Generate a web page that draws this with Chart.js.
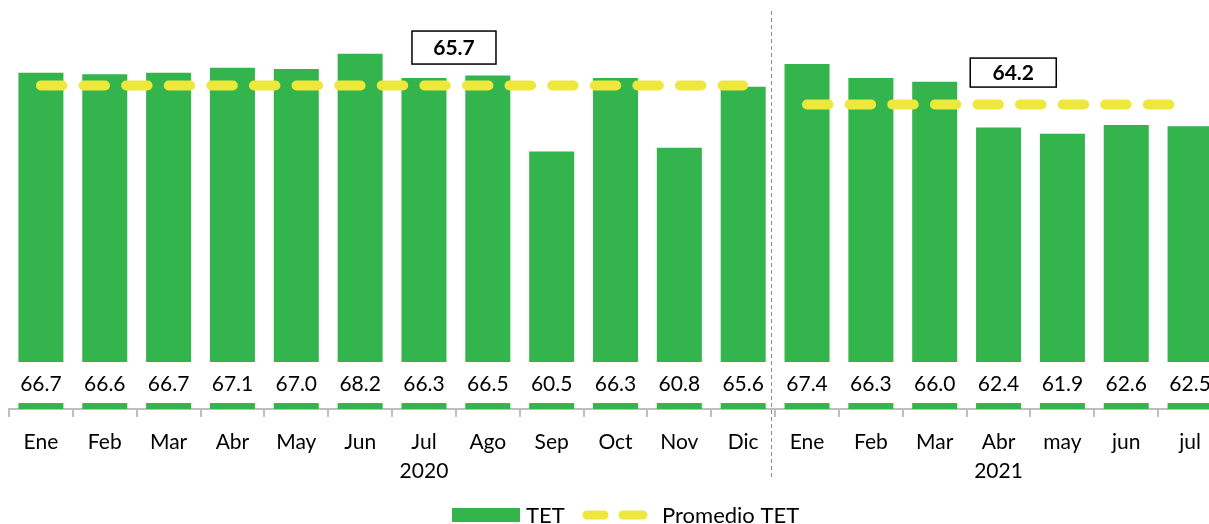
<!DOCTYPE html>
<html><head><meta charset="utf-8">
<script src="https://cdn.jsdelivr.net/npm/chart.js@4.4.1/dist/chart.umd.min.js"></script>
<style>html,body{margin:0;padding:0;overflow:hidden;background:#fff}#wrap{width:1224px;height:524px;position:relative}</style>
</head><body><div id="wrap"><canvas id="c"></canvas></div>
<script>
const months = ['Ene','Feb','Mar','Abr','May','Jun','Jul','Ago','Sep','Oct','Nov','Dic','Ene','Feb','Mar','Abr','may','jun','jul'];
const yearLabels = ['','','','','','','2020','','','','','','','','','2021','','',''];
const tetValues = [66.7,66.6,66.7,67.1,67.0,68.2,66.3,66.5,60.5,66.3,60.8,65.6,67.4,66.3,66.0,62.4,61.9,62.6,62.5];
const avg2020 = [65.7,65.7,65.7,65.7,65.7,65.7,65.7,65.7,65.7,65.7,65.7,65.7,null,null,null,null,null,null,null];
const avg2021 = [null,null,null,null,null,null,null,null,null,null,null,null,64.2,64.2,64.2,64.2,64.2,64.2,64.2];
const avgValues = [65.7, 64.2];

const GREEN = '#34B44C', YELLOW = '#EDE83B', FONT = 'Lato, "Open Sans", sans-serif';
const labels = months.map((m,i) => yearLabels[i] ? [m, yearLabels[i]] : m);

const decor = {
  id: 'decor',
  afterDatasetsDraw(chart) {
    const ctx = chart.ctx, xs = chart.scales.x, ys = chart.scales.y, ca = chart.chartArea;
    const meta = chart.getDatasetMeta(2);
    ctx.save();
    // value labels with white band
    ctx.font = '21px ' + FONT;
    ctx.textAlign = 'center'; ctx.textBaseline = 'middle';
    meta.data.forEach((el, i) => {
      ctx.fillStyle = '#fff';
      ctx.fillRect(el.x - el.width/2 - 1, ca.bottom - 47, el.width + 2, 41);
      ctx.fillStyle = '#000';
      ctx.fillText(tetValues[i].toFixed(1), el.x, ca.bottom - 25);
    });
    // average boxes
    const boxes = [{pos: 6.47, dy: -38, w: 84, h: 33}, {pos: 15.23, dy: -32, w: 86, h: 29}];
    ctx.font = 'bold 21px ' + FONT;
    boxes.forEach((b, i) => {
      const cx = xs.getPixelForValue(b.pos), cy = ys.getPixelForValue(avgValues[i]) + b.dy;
      ctx.fillStyle = '#fff';
      ctx.fillRect(cx - b.w/2, cy - b.h/2, b.w, b.h);
      ctx.strokeStyle = '#000'; ctx.lineWidth = 1.5;
      ctx.strokeRect(cx - b.w/2, cy - b.h/2, b.w, b.h);
      ctx.fillStyle = '#000';
      ctx.fillText(avgValues[i].toFixed(1), cx, cy + 1);
    });
    // separator
    const sx = Math.round((xs.getPixelForValue(11) + xs.getPixelForValue(12)) / 2) - 3.5;
    ctx.strokeStyle = '#8c8c8c'; ctx.lineWidth = 1; ctx.setLineDash([4, 3]);
    ctx.beginPath(); ctx.moveTo(sx, 11); ctx.lineTo(sx, 478); ctx.stroke();
    ctx.setLineDash([]);
    // legend
    ctx.fillStyle = GREEN; ctx.fillRect(452, 508, 68, 14);
    ctx.font = '22px ' + FONT; ctx.textAlign = 'left'; ctx.fillStyle = '#000';
    ctx.fillText('TET', 526, 516);
    ctx.strokeStyle = YELLOW; ctx.lineWidth = 9; ctx.lineCap = 'round';
    ctx.beginPath(); ctx.moveTo(587, 515); ctx.lineTo(604, 515); ctx.moveTo(623, 515); ctx.lineTo(643, 515); ctx.stroke();
    ctx.fillText('Promedio TET', 662, 516);
    ctx.restore();
  }
};

new Chart(document.getElementById('c'), {
  type: 'bar',
  data: {
    labels: labels,
    datasets: [
      {type: 'line', label: 'Promedio TET', data: avg2020, borderColor: YELLOW, borderWidth: 10, borderDash: [21.5, 21.1], borderCapStyle: 'round', pointRadius: 0, spanGaps: false, order: 1},
      {type: 'line', label: 'Promedio TET 2021', data: avg2021, borderColor: YELLOW, borderWidth: 10, borderDash: [21.5, 21.1], borderCapStyle: 'round', pointRadius: 0, spanGaps: false, order: 1},
      {type: 'bar', label: 'TET', data: tetValues, backgroundColor: GREEN, categoryPercentage: 1, barPercentage: 0.705, order: 2}
    ]
  },
  options: {
    responsive: true, maintainAspectRatio: false, animation: false,
    layout: {padding: {left: 9, right: 2, top: 31, bottom: 27}},
    plugins: {legend: {display: false}, tooltip: {enabled: false}},
    scales: {
      y: {display: false, min: 40.2, max: 70},
      x: {
        grid: {display: true, drawOnChartArea: false, drawTicks: true, tickLength: 8, color: '#bfbfbf', lineWidth: 2, offset: true},
        border: {display: true, color: '#bfbfbf', width: 2},
        ticks: {color: '#000', padding: 11, maxRotation: 0, autoSkip: false, font: {family: FONT, size: 21, lineHeight: 1.38}}
      }
    }
  },
  plugins: [decor]
});
</script></body></html>
